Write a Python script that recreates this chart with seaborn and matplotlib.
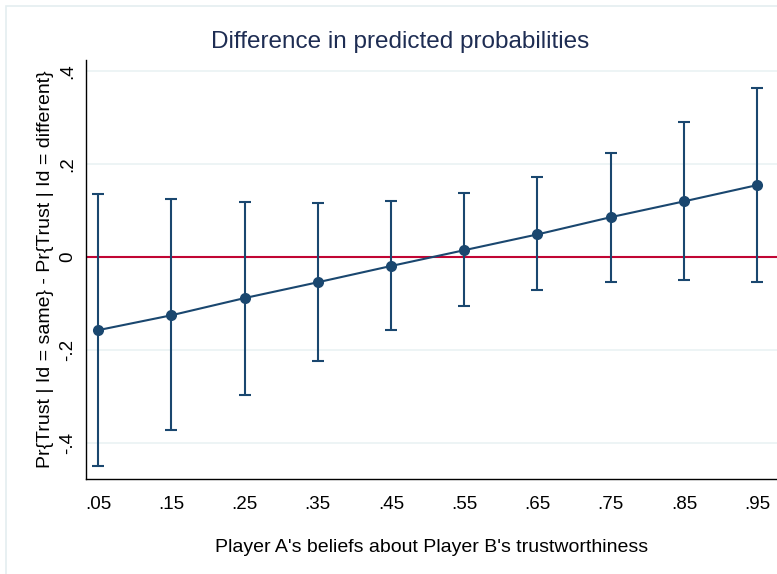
import matplotlib
matplotlib.use("Agg")
import matplotlib.pyplot as plt
import seaborn as sns
import pandas as pd
from matplotlib.patches import Rectangle

# values
beliefs = [0.05, 0.15, 0.25, 0.35, 0.45, 0.55, 0.65, 0.75, 0.85, 0.95]
diff = [-0.157, -0.125, -0.088, -0.054, -0.019, 0.015, 0.049, 0.086, 0.120, 0.155]
ci_low = [-0.449, -0.372, -0.297, -0.224, -0.157, -0.105, -0.071, -0.054, -0.049, -0.054]
ci_high = [0.135, 0.125, 0.118, 0.116, 0.120, 0.138, 0.172, 0.224, 0.290, 0.363]
x_labels = [".05", ".15", ".25", ".35", ".45", ".55", ".65", ".75", ".85", ".95"]
y_ticks = [-0.4, -0.2, 0, 0.2, 0.4]
y_labels = ["-.4", "-.2", "0", ".2", ".4"]

NAVY = "#1a476f"
RED = "#c10534"
GRID = "#eaf2f3"

sns.set_style("white")
plt.rcParams["font.family"] = ["Liberation Sans", "DejaVu Sans"]
plt.rcParams["text.color"] = "black"
plt.rcParams["axes.labelcolor"] = "black"

df = pd.DataFrame({"belief": beliefs, "diff": diff, "lo": ci_low, "hi": ci_high})

fig = plt.figure(figsize=(7.77, 5.74), dpi=100)
ax = fig.add_axes([86 / 777, 95 / 574, 1 - 86 / 777, (479 - 60) / 574])

# outer frame like the Stata graph region
fig.patches.append(Rectangle((6 / 777, -0.01), 1.0, 1 - 6 / 574 + 0.01,
                             transform=fig.transFigure, fill=False,
                             edgecolor="#e4eef0", linewidth=1.2))

for yt in y_ticks:
    ax.axhline(yt, color=GRID, linewidth=1.2, zorder=0)
ax.axhline(0, color=RED, linewidth=1.5, zorder=1)

ax.errorbar(df["belief"], df["diff"],
            yerr=[df["diff"] - df["lo"], df["hi"] - df["diff"]],
            fmt="none", ecolor=NAVY, elinewidth=1.5, capsize=4, capthick=1.5, zorder=2)
sns.lineplot(data=df, x="belief", y="diff", ax=ax, color=NAVY, linewidth=1.5,
             marker="o", markersize=8, markeredgewidth=0, zorder=3)

ax.set_xlim(0.0336, 0.977)
ax.set_ylim(-0.477, 0.424)
ax.set_xticks(beliefs)
ax.set_xticklabels(x_labels, fontsize=13.5, color="black")
ax.set_yticks(y_ticks)
ax.set_yticklabels(y_labels, fontsize=13.5, rotation=90, va="center", color="black")
ax.tick_params(axis="x", direction="out", length=5, width=1, color="black", pad=7)
ax.tick_params(axis="y", direction="out", length=5, width=1, color="black", pad=2)

for side in ["top", "right"]:
    ax.spines[side].set_visible(False)
for side in ["left", "bottom"]:
    ax.spines[side].set_color("black")
    ax.spines[side].set_linewidth(1)

ax.set_xlabel("Player A's beliefs about Player B's trustworthiness", fontsize=14, labelpad=19)
ax.set_ylabel("Pr{Trust | Id = same} - Pr{Trust | Id = different}", fontsize=14, labelpad=4)
fig.text(400 / 777, 1 - 42 / 574, "Difference in predicted probabilities",
         ha="center", va="center", fontsize=17.5, color="#1e2d53")

fig.savefig("out.png", dpi=100)
